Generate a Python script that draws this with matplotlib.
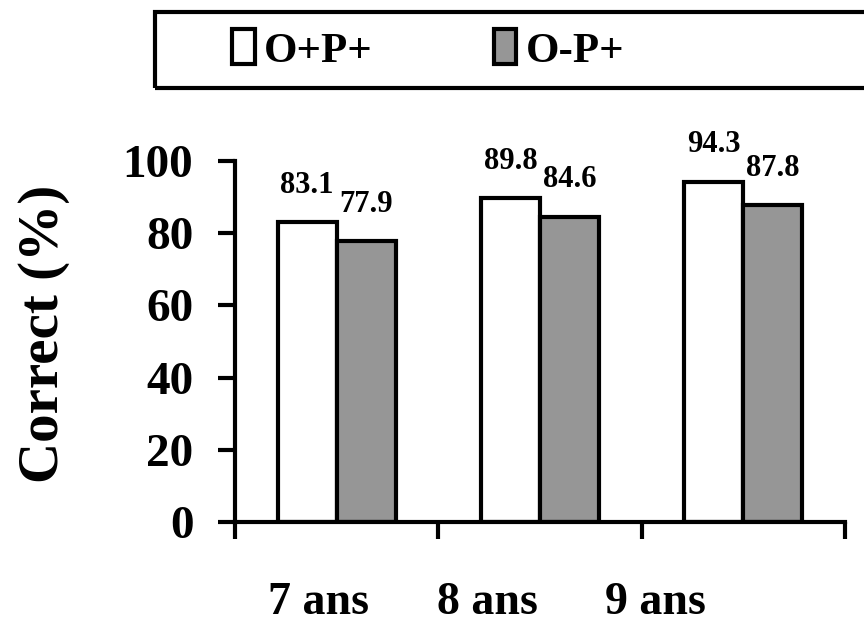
import matplotlib
matplotlib.use("Agg")
import matplotlib.pyplot as plt
import matplotlib.transforms as mtransforms
from matplotlib.patches import Rectangle
import numpy as np

# data
ages = ["7 ans", "8 ans", "9 ans"]
series_names = ["O+P+", "O-P+"]
op_plus = [83.1, 89.8, 94.3]
om_plus = [77.9, 84.6, 87.8]
y_ticks = [0, 20, 40, 60, 80, 100]

plt.rcParams["font.family"] = ["Liberation Serif", "DejaVu Serif"]
plt.rcParams["font.weight"] = "bold"

GREY = "#969696"
LW = 3.0


def main() -> None:
    fig = plt.figure(figsize=(8.64, 6.27), dpi=100)
    ax = fig.add_axes([235 / 864, 1 - 522 / 627, 610 / 864, 361 / 627])

    x = np.arange(len(ages)) + 0.5
    w = 0.29
    b1 = ax.bar(x - w / 2, op_plus, w, color="white", edgecolor="black",
                linewidth=LW, label=series_names[0])
    b2 = ax.bar(x + w / 2, om_plus, w, color=GREY, edgecolor="black",
                linewidth=LW, label=series_names[1])

    for bars, vals in ((b1, op_plus), (b2, om_plus)):
        for rect, v in zip(bars, vals):
            ax.annotate(f"{v:.1f}", xy=(rect.get_x() + rect.get_width() / 2, v),
                        xytext=(0, 21), textcoords="offset points",
                        ha="center", va="baseline", fontsize=22,
                        fontweight="bold")

    ax.set_xlim(0, len(ages))
    ax.set_ylim(0, 100)
    ax.set_yticks(y_ticks)
    ax.set_xticks(np.arange(len(ages) + 1))
    ax.set_xticklabels([])
    for s in ("top", "right"):
        ax.spines[s].set_visible(False)
    for s in ("left", "bottom"):
        ax.spines[s].set_linewidth(LW)
    ax.tick_params(axis="both", direction="out", length=12, width=LW)
    ax.tick_params(axis="y", labelsize=34, pad=18)
    for lab in ax.get_yticklabels():
        lab.set_fontweight("bold")

    # category names sit a bit left of the group centres in the original
    label_x = [0.41, 1.24, 2.07]
    trans = mtransforms.blended_transform_factory(ax.transData, ax.transAxes)
    for lx, name in zip(label_x, ages):
        ax.text(lx, -0.283, name, transform=trans, ha="center",
                va="bottom", fontsize=33, fontweight="bold")

    ax.set_ylabel("Correct (%)", fontsize=41, fontweight="bold")
    ax.yaxis.set_label_coords(-0.27, 0.52)

    # legend: boxed strip at the top, running off the right edge
    frame = Rectangle((155 / 864, 1 - 88 / 627), 1 - 155 / 864 + 0.05,
                      76 / 627, transform=fig.transFigure, fill=False,
                      edgecolor="black", linewidth=LW, clip_on=False)
    fig.add_artist(frame)
    fig.legend(handles=[b1, b2], labels=series_names, ncol=2,
               loc="center left", bbox_to_anchor=(232 / 864, 1 - 50 / 627),
               frameon=False, borderpad=0, borderaxespad=0,
               handlelength=0.53, handleheight=0.88, handletextpad=0.22,
               columnspacing=2.8, prop={"size": 31, "weight": "bold"})

    fig.savefig("out.png", dpi=100)
    plt.close(fig)


if __name__ == "__main__":
    main()
